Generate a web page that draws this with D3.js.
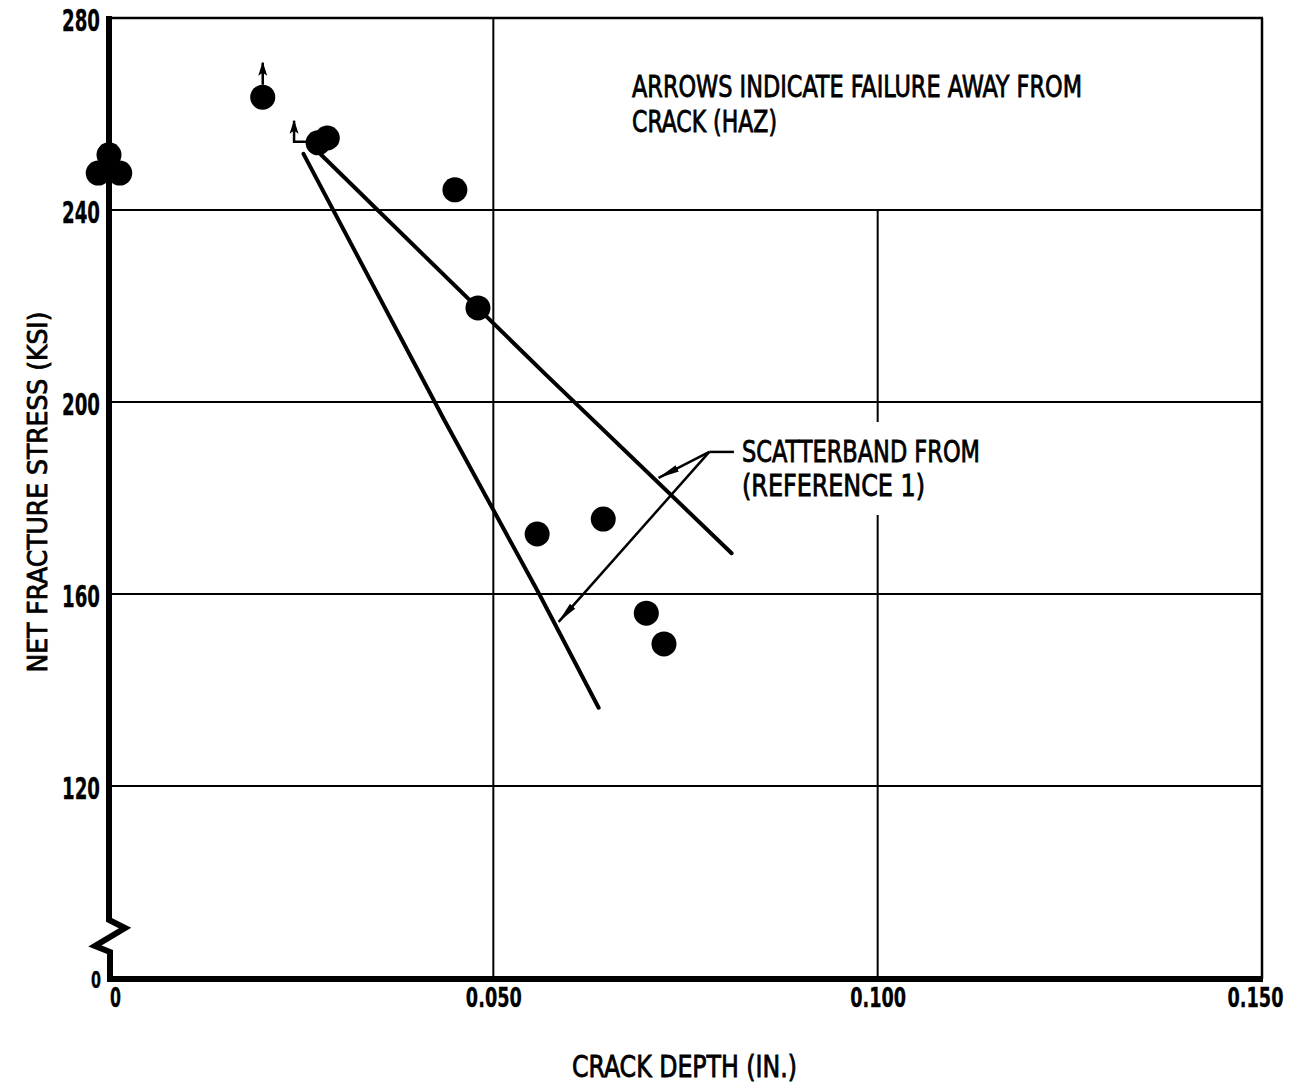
<!DOCTYPE html>
<html>
<head>
<meta charset="utf-8">
<script src="https://cdn.jsdelivr.net/npm/d3@7"></script>
<style>
  html, body { margin: 0; padding: 0; background: #fff; }
  svg { display: block; }
  text { font-family: "DejaVu Sans Condensed", "Liberation Sans Narrow", "DejaVu Sans", sans-serif; font-stretch: condensed; fill: #000; stroke: #000; stroke-width: 0.8px; }
  .tick text { font-weight: bold; stroke-width: 0.3px; }
</style>
</head>
<body>
<svg id="chart" width="1305" height="1086"></svg>
<script>
// ---- data ----
const xTicks = [0, 0.05, 0.10, 0.15];
const xTickLabels = ["0", "0.050", "0.100", "0.150"];
const yTicks = [0, 120, 160, 200, 240, 280];
const yTickLabels = ["0", "120", "160", "200", "240", "280"];
const yGrid = [120, 160, 200, 240];
const xGrid = [0.05, 0.10];

// crack depth (in.) and net fracture stress (ksi) per specimen
const crackDepth = [0.0, -0.0014, 0.0014, 0.0200, 0.0272, 0.0284, 0.0450, 0.0480, 0.0557, 0.0643, 0.0699, 0.0722];
const stress     = [251.5, 247.7, 247.7, 263.5, 254.0, 255.0, 244.2, 219.6, 172.5, 175.6, 156.0, 149.6];
const hazFailure = [false, false, false, true, true, false, false, false, false, false, false, false];

// scatterband from reference 1
const upperBand = [[0.0276, 251.5], [0.0569, 205.6], [0.0810, 168.5]];
const lowerBand = [[0.0253, 251.7], [0.0436, 196.3], [0.0559, 160.2], [0.0637, 136.3]];
// annotation leader (data coords)
const leaderStart = [0.0781, 189.6];
const leaderEnd   = [0.0813, 189.6];
const leaderTips  = [[0.0715, 184.2], [0.0585, 154.2]];

const xTitle = "CRACK DEPTH (IN.)";
const yTitle = "NET FRACTURE STRESS (KSI)";
const note1 = ["ARROWS INDICATE FAILURE AWAY FROM", "CRACK (HAZ)"];
const note2 = ["SCATTERBAND FROM", "(REFERENCE 1)"];

// ---- scales ----
const svg = d3.select("#chart");
const x = d3.scaleLinear().domain([0, 0.15]).range([109, 1262]);
// broken axis: 0..120 compressed into one grid interval
const y = d3.scaleLinear().domain([0, 120, 280]).range([979, 786, 18]);
const X0 = x(0), X1 = x(0.15), Y0 = y(0), Y1 = y(280);

const defs = svg.append("defs");
defs.append("marker").attr("id", "head").attr("viewBox", "0 -4 22 8")
  .attr("markerUnits", "userSpaceOnUse").attr("markerWidth", 22).attr("markerHeight", 8)
  .attr("refX", 21).attr("refY", 0).attr("orient", "auto")
  .append("path").attr("d", "M0,-3.5 L22,0 L0,3.5 Z").attr("fill", "#000");
defs.append("marker").attr("id", "headSmall").attr("viewBox", "0 -5 14 10")
  .attr("markerUnits", "userSpaceOnUse").attr("markerWidth", 14).attr("markerHeight", 10)
  .attr("refX", 13).attr("refY", 0).attr("orient", "auto")
  .append("path").attr("d", "M0,-4.5 L14,0 L0,4.5 L3,0 Z").attr("fill", "#000");

// ---- annotations text (drawn first so grid gap can use its box) ----
const n1 = svg.append("g");
const n1w = [450, 145];
note1.forEach((t, i) => {
  n1.append("text").attr("x", 632).attr("y", 97 + i * 35)
    .attr("font-size", 30).attr("textLength", n1w[i]).attr("lengthAdjust", "spacingAndGlyphs").text(t);
});
const n2 = svg.append("g");
const n2w = [238, 183];
note2.forEach((t, i) => {
  n2.append("text").attr("x", 742).attr("y", 462 + i * 34)
    .attr("font-size", 30).attr("textLength", n2w[i]).attr("lengthAdjust", "spacingAndGlyphs").text(t);
});
const n2box = n2.node().getBBox();

// ---- grid ----
const grid = svg.append("g").attr("stroke", "#000").attr("stroke-width", 2);
grid.selectAll("line.h").data(yGrid).join("line").attr("class", "h")
  .attr("x1", X0).attr("x2", X1).attr("y1", d => y(d)).attr("y2", d => y(d));
// 0.050 full height
grid.append("line").attr("x1", x(xGrid[0])).attr("x2", x(xGrid[0])).attr("y1", Y1).attr("y2", Y0);
// 0.100 from 240 down, broken around the annotation text
const gapTop = n2box.y - 12, gapBot = n2box.y + n2box.height + 12;
grid.append("line").attr("x1", x(xGrid[1])).attr("x2", x(xGrid[1])).attr("y1", y(240)).attr("y2", gapTop);
grid.append("line").attr("x1", x(xGrid[1])).attr("x2", x(xGrid[1])).attr("y1", gapBot).attr("y2", Y0);

// frame top and right
svg.append("line").attr("x1", X0).attr("x2", X1 + 1).attr("y1", Y1).attr("y2", Y1).attr("stroke", "#000").attr("stroke-width", 2.5);
svg.append("line").attr("x1", X1).attr("x2", X1).attr("y1", Y1).attr("y2", Y0).attr("stroke", "#000").attr("stroke-width", 2.5);

// ---- axes ----
const xAxis = svg.append("g").attr("transform", `translate(0,${Y0})`)
  .call(d3.axisBottom(x).tickValues(xTicks).tickFormat((d, i) => xTickLabels[i]).tickSize(0).tickPadding(9));
xAxis.select(".domain").remove();
xAxis.selectAll("text").attr("font-size", 27).attr("font-family", null).attr("fill", "#000")
  .attr("textLength", (d, i) => xTickLabels[i].length > 1 ? 56 : 11).attr("lengthAdjust", "spacingAndGlyphs");
xAxis.selectAll(".tick").filter(d => d === 0).select("text").attr("x", 6);
xAxis.selectAll(".tick").filter(d => d === 0.15).select("text").attr("x", -7);

const yAxis = svg.append("g").attr("transform", `translate(${X0},0)`)
  .call(d3.axisLeft(y).tickValues(yTicks).tickFormat((d, i) => yTickLabels[i]).tickSize(0).tickPadding(9));
yAxis.select(".domain").remove();
yAxis.selectAll("text").attr("font-size", 30).attr("font-family", null).attr("fill", "#000").attr("dy", "0.42em")
  .attr("textLength", (d, i) => yTickLabels[i].length > 1 ? 38 : 10).attr("lengthAdjust", "spacingAndGlyphs");
yAxis.selectAll(".tick").filter(d => d === 0).select("text").attr("font-size", 23).attr("x", -8).attr("dy", "0.36em");

// thick left axis with break, and thick bottom axis
const zz = [[X0, Y1 - 2], [X0, Y0 - 59], [X0 + 16, Y0 - 51], [X0 - 14, Y0 - 33], [X0 + 1, Y0 - 27], [X0 + 1, Y0]];
svg.append("path").attr("d", d3.line()(zz)).attr("fill", "none").attr("stroke", "#000")
  .attr("stroke-width", 6).attr("stroke-linejoin", "miter");
svg.append("line").attr("x1", X0 - 2).attr("x2", X1 + 1).attr("y1", Y0).attr("y2", Y0)
  .attr("stroke", "#000").attr("stroke-width", 6);

// axis titles
svg.append("text").attr("x", 572).attr("y", 1077).attr("font-size", 30)
  .attr("textLength", 225).attr("lengthAdjust", "spacingAndGlyphs").text(xTitle);
svg.append("text").attr("transform", "translate(47,492) rotate(-90)").attr("text-anchor", "middle")
  .attr("font-size", 27).attr("textLength", 361).attr("lengthAdjust", "spacingAndGlyphs").text(yTitle);

// ---- scatterband ----
const line = d3.line().x(d => x(d[0])).y(d => y(d[1]));
[upperBand, lowerBand].forEach(b => {
  svg.append("path").attr("d", line(b)).attr("fill", "none").attr("stroke", "#000")
    .attr("stroke-width", 4).attr("stroke-linecap", "round");
});

// leader
svg.append("line").attr("x1", x(leaderStart[0])).attr("y1", y(leaderStart[1]))
  .attr("x2", x(leaderEnd[0])).attr("y2", y(leaderEnd[1])).attr("stroke", "#000").attr("stroke-width", 2.5);
leaderTips.forEach(t => {
  svg.append("line").attr("x1", x(leaderStart[0])).attr("y1", y(leaderStart[1]))
    .attr("x2", x(t[0])).attr("y2", y(t[1])).attr("stroke", "#000").attr("stroke-width", 2.5)
    .attr("marker-end", "url(#head)");
});

// ---- points ----
const pts = crackDepth.map((c, i) => ({ c, s: stress[i], haz: hazFailure[i], i }));
const R = 12.5;
svg.append("g").selectAll("circle").data(pts).join("circle")
  .attr("cx", d => x(d.c)).attr("cy", d => y(d.s)).attr("r", R).attr("fill", "#000");

// HAZ arrows: first straight up, second offset with an L-shaped leader
let hazCount = 0;
pts.filter(d => d.haz).forEach(d => {
  const cx = x(d.c), cy = y(d.s);
  if (hazCount === 0) {
    svg.append("line").attr("x1", cx).attr("y1", cy - R).attr("x2", cx).attr("y2", cy - R - 22)
      .attr("stroke", "#000").attr("stroke-width", 2.5).attr("marker-end", "url(#headSmall)");
  } else {
    const lx = cx - 24;
    svg.append("path").attr("d", `M${cx - R + 1},${cy - 1} L${lx},${cy - 1} L${lx},${cy - 22}`)
      .attr("fill", "none").attr("stroke", "#000").attr("stroke-width", 2.5).attr("marker-end", "url(#headSmall)");
  }
  hazCount++;
});
</script>
</body>
</html>
